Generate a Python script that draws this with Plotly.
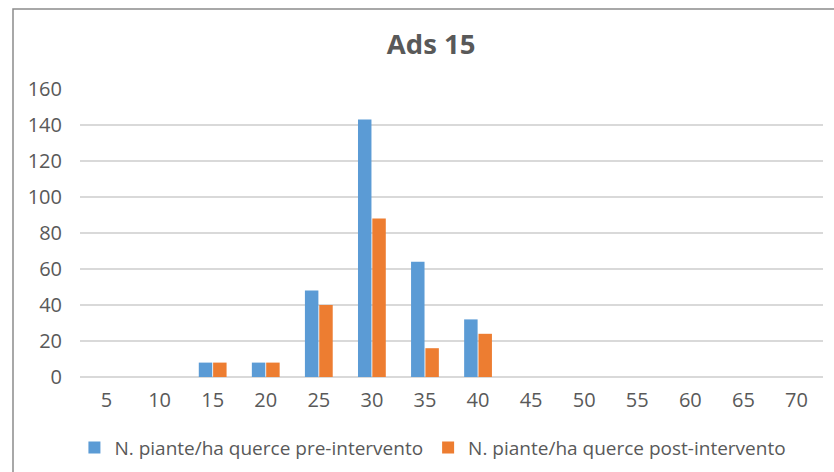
import plotly.graph_objects as go

categories = ["5", "10", "15", "20", "25", "30", "35", "40", "45", "50", "55", "60", "65", "70"]
pre_values = [0, 0, 8, 8, 48, 143, 64, 32, 0, 0, 0, 0, 0, 0]
post_values = [0, 0, 8, 8, 40, 88, 16, 24, 0, 0, 0, 0, 0, 0]
y_ticks = [0, 20, 40, 60, 80, 100, 120, 140, 160]

fig = go.Figure()
fig.add_trace(go.Bar(x=categories, y=pre_values, name="N. piante/ha querce pre-intervento",
                     marker=dict(color="#5B9BD5", line=dict(width=0))))
fig.add_trace(go.Bar(x=categories, y=post_values, name="N. piante/ha querce post-intervento",
                     marker=dict(color="#ED7D31", line=dict(width=0))))

fig.update_layout(
    width=834, height=472,
    margin=dict(l=80, r=11, t=89, b=95, autoexpand=False),
    paper_bgcolor="white", plot_bgcolor="white",
    barmode="group", bargap=0.46, bargroupgap=0.06,
    font=dict(family="Open Sans, sans-serif", color="#595959", size=19),
    title=dict(text="<b>Ads 15</b>", x=0.517, xanchor="center", y=0.905, yanchor="middle",
               font=dict(family="Open Sans, sans-serif", size=27.5, color="#595959")),
    showlegend=True,
    legend=dict(orientation="h", x=0.475, xanchor="center", y=-0.245, yanchor="middle",
                font=dict(size=19, color="#595959"), itemwidth=30, traceorder="normal"),
    xaxis=dict(type="category", showgrid=False, showline=False, ticks="",
               ticklabelstandoff=9, tickfont=dict(size=20, color="#595959")),
    yaxis=dict(range=[0, 160], tickvals=y_ticks, showgrid=True, gridcolor="#D9D9D9",
               gridwidth=1.5, zeroline=True, zerolinecolor="#D9D9D9", zerolinewidth=1.5,
               showline=False, ticks="", ticklabelstandoff=17,
               tickfont=dict(size=20, color="#595959")),
    shapes=[dict(type="rect", xref="paper", yref="paper",
                 x0=-67/743, x1=1.1, y0=-0.5, y1=1 + 80/288,
                 line=dict(color="#8C8C8C", width=1.5), fillcolor="rgba(0,0,0,0)", layer="below")],
)

fig.write_html("out.html", config={"displayModeBar": False},
               post_script="document.body.style.margin='0';")
